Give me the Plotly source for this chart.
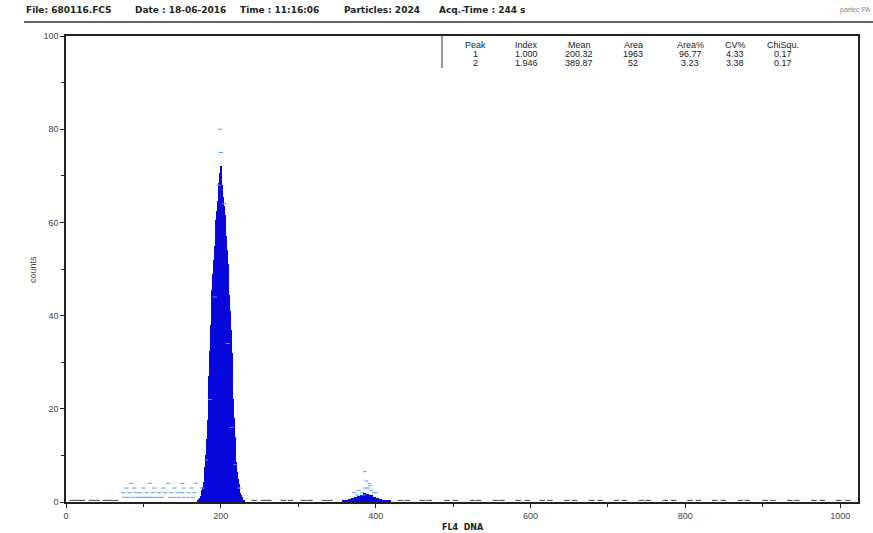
import plotly.graph_objects as go

# ---------------- data ----------------
peak1_channel = list(range(170, 231))
peak1_count = [0.3, 0.4, 0.6, 0.9, 1.3, 1.8, 2.5, 3.3, 4.3, 5.6,
               7.5, 10.0, 13.5, 17.5, 22.0, 27.0, 32.5, 38.0, 42.0, 45.5,
               49.0, 52.0, 55.0, 58.0, 60.5, 62.5, 64.5, 66.0, 68.5, 70.5,
               72.0, 71.0, 68.0, 65.5, 63.5, 61.5, 59.5, 57.0, 54.0, 51.0,
               48.0, 44.5, 41.0, 37.0, 32.0, 27.0, 22.0, 18.0, 14.0, 11.0,
               8.5, 6.5, 5.0, 3.8, 2.8, 2.0, 1.4, 1.0, 0.7, 0.5, 0.3]

peak2_channel = [358, 362, 366, 370, 374, 378, 382, 386, 390, 394, 398, 402, 406, 410, 414, 418]
peak2_count = [0.3, 0.4, 0.6, 0.8, 1.0, 1.2, 1.4, 1.9, 1.7, 1.4, 1.1, 0.9, 0.7, 0.5, 0.4, 0.3]

# light blue data dots (debris region, around peaks)
dot_x = [75, 80, 86, 92, 96, 100, 104, 108, 112, 116, 120, 124, 134, 140, 146, 152, 158, 164,
         74, 82, 90, 96, 104, 112, 120, 128, 136, 144, 150, 158, 166,
         78, 88, 100, 114, 126, 140, 152, 162,
         84, 108, 132, 150, 168,
         199, 200, 197, 204, 192, 209, 186, 214, 181, 219, 176, 224,
         372, 378, 382, 386, 390, 394, 398, 376, 384, 392, 400, 388, 393, 386]
dot_y = [1, 1, 1, 1, 1, 1, 1, 1, 1, 1, 1, 1, 1, 1, 1, 1, 1, 1,
         2, 2, 2, 2, 2, 2, 2, 2, 2, 2, 2, 2, 2,
         3, 3, 3, 3, 3, 3, 3, 3,
         4, 4, 4, 4, 4,
         80, 75, 68, 64, 44, 34, 22, 16, 9, 8, 3, 3,
         2, 2.5, 2, 3, 3, 2.5, 2, 1.5, 1.5, 4, 2, 4.5, 3.5, 6.5]

# baseline single-count channels (dark)
base_x = [8, 15, 21, 33, 40, 51, 57, 64, 243, 255, 262, 281, 290, 307, 315, 334,
          341, 432, 441, 460, 469, 492, 503, 525, 533, 555, 563, 584, 596, 615,
          625, 647, 657, 679, 690, 711, 721, 743, 752, 774, 785, 806, 817, 838,
          849, 871, 880, 903, 913, 935, 944, 966, 977, 998, 1010]

table_cols = ["Peak", "Index", "Mean", "Area", "Area%", "CV%", "ChiSqu."]
table_row1 = ["1", "1.000", "200.32", "1963", "96.77", "4.33", "0.17"]
table_row2 = ["2", "1.946", "389.87", "52", "3.23", "3.38", "0.17"]

header_items = ["File: 680116.FCS", "Date : 18-06-2016", "Time : 11:16:06",
                "Particles: 2024", "Acq.-Time : 244 s"]

# ---------------- figure ----------------
W, H = 873, 533
L, R, T, B = 66, 858, 36, 502

def px(x):
    return (x - L) / (R - L)

def py(y):
    return (B - y) / (B - T)

BLUE = "#0808dc"
fig = go.Figure()
fig.add_trace(go.Bar(x=peak1_channel, y=peak1_count, width=1.0,
                     marker=dict(color=BLUE, line=dict(width=0)), showlegend=False))
fig.add_trace(go.Bar(x=peak2_channel, y=peak2_count, width=4.0,
                     marker=dict(color=BLUE, line=dict(width=0)), showlegend=False))
fig.add_trace(go.Scatter(x=base_x, y=[0.35] * len(base_x), mode="markers",
                         marker=dict(symbol="line-ew", size=4, line=dict(color="#444", width=1)),
                         showlegend=False))
fig.add_trace(go.Scatter(x=dot_x, y=dot_y, mode="markers",
                         marker=dict(symbol="line-ew", size=3, line=dict(color="#5a9ff0", width=1)),
                         showlegend=False))

font = "Liberation Sans, Arial, sans-serif"
hfont = "DejaVu Sans, sans-serif"
ann = []
header_px = [24, 133, 238, 342, 437]
for txt, xp in zip(header_items, header_px):
    ann.append(dict(text="<b>" + txt + "</b>", x=px(xp), y=py(10), xref="paper", yref="paper",
                    xanchor="left", yanchor="middle", showarrow=False,
                    font=dict(family=hfont, size=9, color="#222")))
ann.append(dict(text="partec PA", x=px(873), y=py(10), xref="paper", yref="paper",
                xanchor="right", yanchor="middle", showarrow=False,
                font=dict(family=font, size=7, color="#888")))

col_px = [476, 526, 579, 633, 690, 735, 783]
for i, c in enumerate(table_cols):
    ann.append(dict(text=c, x=px(col_px[i]), y=py(45), xref="paper", yref="paper",
                    xanchor="center", yanchor="middle", showarrow=False,
                    font=dict(family=font, size=9, color="#222")))
    for row, yy in ((table_row1, 54), (table_row2, 63)):
        ann.append(dict(text=row[i], x=px(col_px[i]), y=py(yy), xref="paper", yref="paper",
                        xanchor="center", yanchor="middle", showarrow=False,
                        font=dict(family=font, size=9, color="#222")))

ann.append(dict(text="counts", x=px(33), y=py(270), xref="paper", yref="paper", textangle=-90,
                xanchor="center", yanchor="middle", showarrow=False,
                font=dict(family=font, size=9, color="#444")))
ann.append(dict(text="<b>FL4  DNA</b>", x=px(463), y=py(527), xref="paper", yref="paper",
                xanchor="center", yanchor="middle", showarrow=False,
                font=dict(family=hfont, size=8, color="#222")))

shapes = [
    dict(type="line", xref="paper", yref="paper", x0=px(24), x1=px(873), y0=py(22), y1=py(22),
         line=dict(color="#333", width=1.5)),
    dict(type="line", xref="paper", yref="paper", x0=px(442), x1=px(442), y0=py(36), y1=py(68),
         line=dict(color="#333", width=1)),
]

fig.update_layout(
    width=W, height=H,
    margin=dict(l=L, r=W - R, t=T, b=H - B),
    paper_bgcolor="white", plot_bgcolor="white",
    bargap=0, barmode="overlay",
    annotations=ann, shapes=shapes,
    font=dict(family=font, size=9, color="#444"),
)
fig.update_xaxes(range=[0, 1023], showgrid=False, zeroline=False,
                 showline=True, mirror=True, linecolor="#222", linewidth=1.5,
                 ticks="outside", ticklen=4, tickcolor="#222", dtick=200, tick0=0,
                 minor=dict(dtick=100, ticks="outside", ticklen=3, tickcolor="#222"),
                 tickfont=dict(family=font, size=9, color="#444"))
fig.update_yaxes(range=[0, 100], showgrid=False, zeroline=False,
                 showline=True, mirror=True, linecolor="#222", linewidth=1.5,
                 ticks="outside", ticklen=4, tickcolor="#222", dtick=20, tick0=0,
                 minor=dict(dtick=10, ticks="outside", ticklen=3, tickcolor="#222"),
                 tickfont=dict(family=font, size=9, color="#444"))

fig.write_html("out.html")
